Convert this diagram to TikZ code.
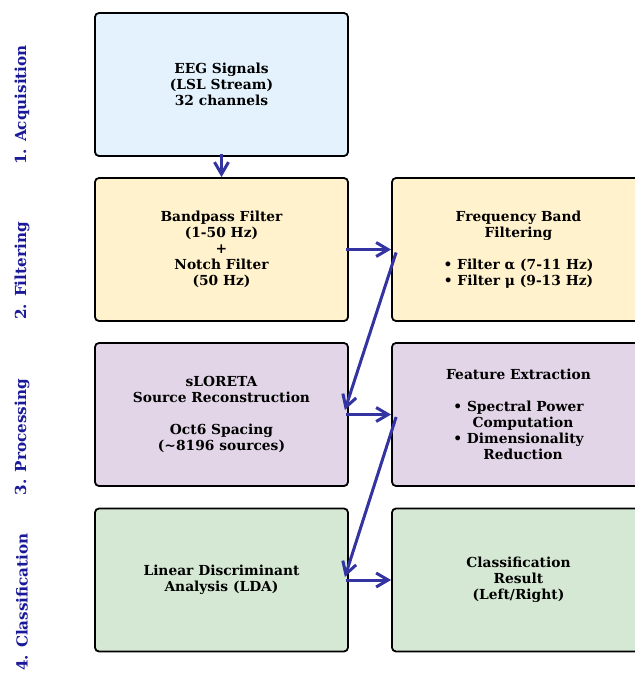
\documentclass[tikz,border=0pt]{standalone}
\usepackage{fontspec}
\setmainfont{DejaVu Serif}
\usetikzlibrary{arrows.meta}
\definecolor{bxblue}{HTML}{E3F2FD}
\definecolor{bxyellow}{HTML}{FFF2CC}
\definecolor{bxpurple}{HTML}{E1D5E7}
\definecolor{bxgreen}{HTML}{D5E8D4}
\definecolor{labblue}{HTML}{1A1A99}
\definecolor{arrblue}{HTML}{3333A2}
\begin{document}
\begin{tikzpicture}[x=1pt,y=-1pt,
  box/.style={draw=black, line width=1.8pt, rounded corners=4pt,
    minimum width=253pt, minimum height=143pt, inner sep=0pt, align=center,
    font=\fontsize{13.8}{16}\selectfont\bfseries},
  stage/.style={rotate=90, inner sep=0pt, font=\fontsize{15.2}{18}\selectfont\bfseries, text=labblue},
  arr/.style={draw=arrblue, line width=3pt,
    -{Straight Barb[length=12pt,width=14pt,line width=3pt]}}]
\useasboundingbox (0,0) rectangle (635,673);
\clip (0,0) rectangle (635,673);

\node[stage] (s1) at (22,105) {1. Acquisition};
\node[stage] (s2) at (22,271) {2. Filtering};
\node[stage] (s3) at (22,437) {3. Processing};
\node[stage] (s4) at (22,602) {4. Classification};

\node[box, fill=bxblue] (eeg) at (221.5,84.5) {EEG Signals\\(LSL Stream)\\32 channels};
\node[box, fill=bxyellow] (bp) at (221.5,249.5) {Bandpass Filter\\(1-50 Hz)\\+\\Notch Filter\\(50 Hz)};
\node[box, fill=bxyellow] (fb) at (518.5,249.5) {Frequency Band\\Filtering\\[16pt]• Filter α (7-11 Hz)\\• Filter μ (9-13 Hz)};
\node[box, fill=bxpurple] (sl) at (221.5,414.5) {sLORETA\\Source Reconstruction\\[16pt]Oct6 Spacing\\(\textasciitilde8196 sources)};
\node[box, fill=bxpurple] (fe) at (518.5,414.5) {Feature Extraction\\[16pt]• Spectral Power\\\hspace*{9pt}Computation\\• Dimensionality\\\hspace*{9pt}Reduction};
\node[box, fill=bxgreen] (lda) at (221.5,580) {Linear Discriminant\\Analysis (LDA)};
\node[box, fill=bxgreen] (res) at (518.5,580) {Classification\\Result\\(Left/Right)};

\draw[arr] ([yshift=3pt]eeg.south) -- (bp.north);
\draw[arr] ([xshift=-3pt]bp.east) -- (fb.west);
\draw[arr] ([xshift=5pt,yshift=-3pt]fb.west) -- ([xshift=-4pt,yshift=4.5pt]sl.east);
\draw[arr] ([xshift=-3pt]sl.east) -- (fe.west);
\draw[arr] ([xshift=5pt,yshift=-2.5pt]fe.west) -- ([xshift=-4pt,yshift=3pt]lda.east);
\draw[arr] ([xshift=-3pt]lda.east) -- (res.west);
\end{tikzpicture}
\end{document}
